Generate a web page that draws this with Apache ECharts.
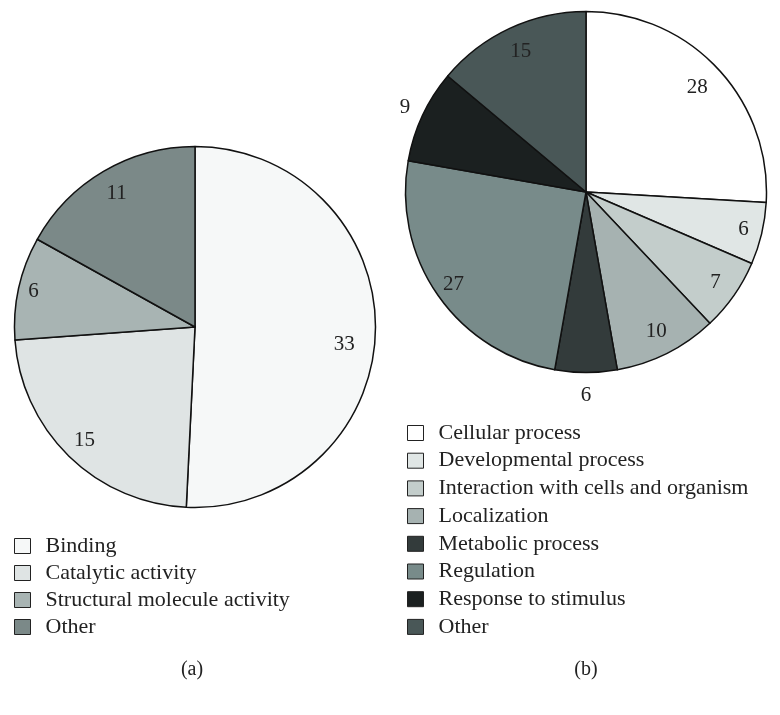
<!DOCTYPE html>
<html>
<head>
<meta charset="utf-8">
<script src="https://cdn.jsdelivr.net/npm/echarts@6/dist/echarts.min.js"></script>
<style>html,body{margin:0;padding:0;background:#fff}#c{width:780px;height:715px}</style>
</head>
<body>
<div id="c"></div>
<script>
// ---- data ----
var catsA = ['Binding', 'Catalytic activity', 'Structural molecule activity', 'Other'];
var valsA = [33, 15, 6, 11];
var catsB = ['Cellular process', 'Developmental process', 'Interaction with cells and organism', 'Localization', 'Metabolic process', 'Regulation', 'Response to stimulus', 'Other'];
var valsB = [28, 6, 7, 10, 6, 27, 9, 15];

// ---- style / layout ----
var colorsA = ['#f6f8f8', '#dfe4e4', '#a8b4b3', '#7b8988'];
var colorsB = ['#ffffff', '#e0e6e5', '#c3cdcb', '#a6b2b1', '#333b3b', '#788b8a', '#1b2020', '#495757'];
var labelRA = [0.81, 0.86, 0.90, 0.84];
var labelNudgeA = [14, 0, 0, 0];
var labelRB = [0.83, 0.88, 0.86, 0.85, 1.11, 0.88, 1.09, 0.84];
var labelNudgeB = [0, 0, 0, 0, 0, 0, 0, 0];
var FONT = 'Liberation Serif';

function mainSeries(id, cats, vals, colors, center, r) {
  return {
    type: 'pie', id: id, center: center, radius: r, startAngle: 90, clockwise: true,
    label: { show: false }, labelLine: { show: false }, silent: true,
    itemStyle: { borderColor: '#111', borderWidth: 1.5 },
    data: cats.map(function (c, i) { return { name: c, value: vals[i], itemStyle: { color: colors[i] } }; })
  };
}
function labelSeries(cats, vals, center, r, fracs, nudges) {
  return fracs.map(function (f, k) {
    var mid = f * r;
    return {
      type: 'pie', center: center, radius: [mid - 8, mid + 8], startAngle: 90, clockwise: true,
      silent: true, labelLine: { show: false },
      itemStyle: { color: 'rgba(0,0,0,0)', borderWidth: 0 },
      label: { show: false },
      labelLayout: function () { return { dy: nudges[k] }; },
      data: cats.map(function (c, i) {
        return {
          name: c, value: vals[i],
          label: { show: i === k, position: 'inside', formatter: '{c}', color: '#222', fontSize: 21, fontFamily: FONT }
        };
      })
    };
  });
}

var cA = [195, 327], rA = 180.5;
var cB = [586, 192], rB = 180.5;

var series = [mainSeries('a', catsA, valsA, colorsA, cA, rA), mainSeries('b', catsB, valsB, colorsB, cB, rB)]
  .concat(labelSeries(catsA, valsA, cA, rA, labelRA, labelNudgeA))
  .concat(labelSeries(catsB, valsB, cB, rB, labelRB, labelNudgeB));

function legendData(cats, colors) {
  return cats.map(function (c, i) { return { name: c, itemStyle: { color: colors[i], borderColor: '#222', borderWidth: 1 } }; });
}
var legendCommon = {
  orient: 'vertical', icon: 'rect', itemWidth: 16, itemHeight: 15, padding: 0,
  selectedMode: false,
  textStyle: { fontFamily: FONT, fontSize: 22, color: '#222', padding: [0, 0, 0, 10] }
};

var capStyle = { fontFamily: FONT, fontSize: 20, fontWeight: 'normal', color: '#222' };
var option = {
  animation: false,
  backgroundColor: '#fff',
  title: [
    { text: '(a)', left: 192, top: 660, padding: 0, textAlign: 'center', textStyle: capStyle },
    { text: '(b)', left: 586, top: 660, padding: 0, textAlign: 'center', textStyle: capStyle }
  ],
  legend: [
    Object.assign({}, legendCommon, { data: legendData(catsA, colorsA), left: 14, top: 535, itemGap: 5 }),
    Object.assign({}, legendCommon, { data: legendData(catsB, colorsB), left: 407, top: 422, itemGap: 5.7 })
  ],
  series: series
};

var chart = echarts.init(document.getElementById('c'));
chart.setOption(option);
</script>
</body>
</html>
